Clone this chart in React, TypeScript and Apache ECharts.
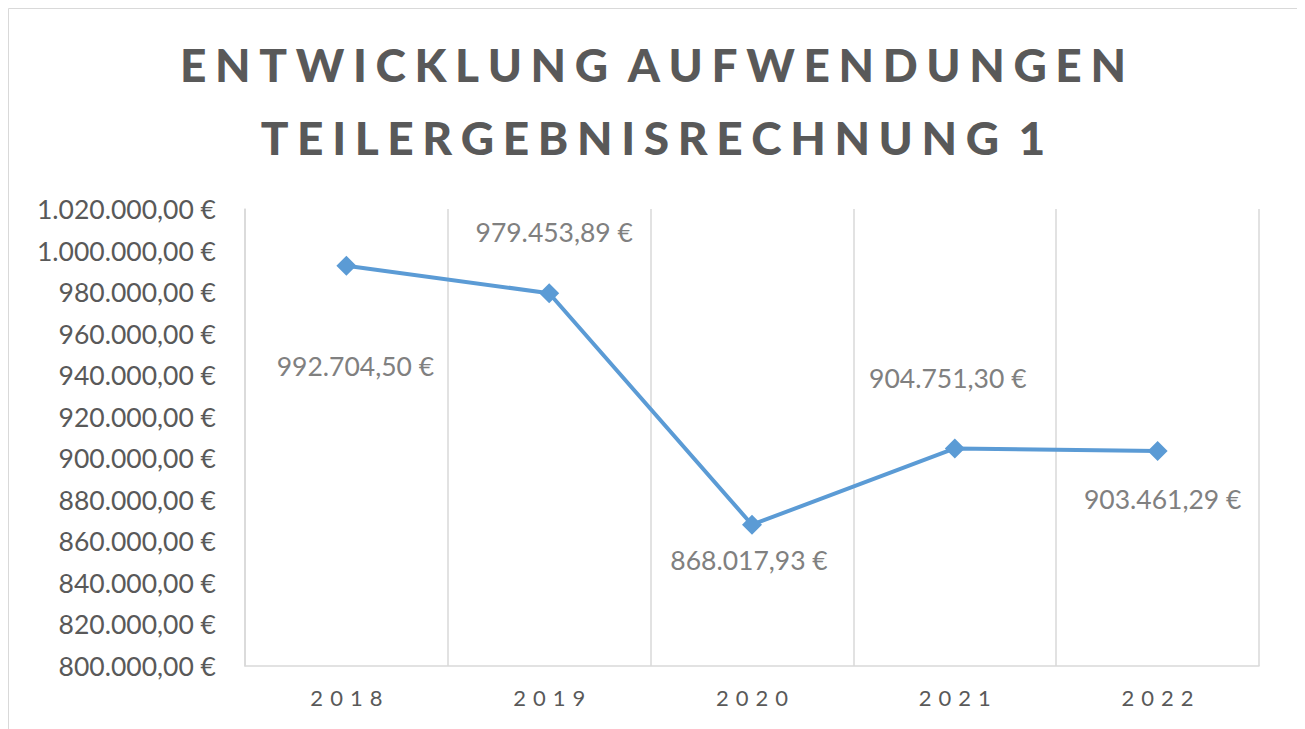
import React, { useEffect, useRef } from "react";
import * as echarts from "echarts";

const titleLines = ["ENTWICKLUNG AUFWENDUNGEN", "TEILERGEBNISRECHNUNG 1"];
const years = ["2018", "2019", "2020", "2021", "2022"];
const values = [992704.5, 979453.89, 868017.93, 904751.3, 903461.29];
const yMin = 800000;
const yMax = 1020000;
const yStep = 20000;
// label placement relative to each point (layout, not data)
const labelOffsets = [
  [9, 100],
  [5, -61],
  [-3, 35],
  [-7, -70],
  [5, 48],
];

const spaced = (s: string) =>
  s
    .split(" ")
    .map((w) => w.split("").join("\u2009\u200A"))
    .join("\u2009 \u200A");

const euro = (v: number) => {
  const [i, d] = v.toFixed(2).split(".");
  return i.replace(/\B(?=(\d{3})+(?!\d))/g, ".") + "," + d + " €";
};

export default function App() {
  const ref = useRef<HTMLDivElement>(null);
  useEffect(() => {
    if (!ref.current) return;
    const chart = echarts.init(ref.current, undefined, { renderer: "svg" });
    const font = "Lato, 'Open Sans', sans-serif";
    chart.setOption({
      animation: false,
      backgroundColor: "#ffffff",
      title: {
        text: titleLines.map(spaced).join("\n"),
        left: "center",
        top: 15,
        textStyle: {
          fontFamily: font,
          fontWeight: 900,
          fontSize: 46,
          lineHeight: 73,
          color: "#595959",
        },
      },
      graphic: [
        {
          type: "rect",
          shape: { x: 0.5, y: 0.5, width: 1289, height: 739 },
          style: { fill: "none", stroke: "#d9d9d9", lineWidth: 1 },
          silent: true,
        },
      ],
      grid: { left: 237, right: 39, top: 201, bottom: 82, containLabel: false },
      xAxis: {
        type: "category",
        data: years,
        boundaryGap: true,
        axisLine: { show: true, lineStyle: { color: "#d9d9d9", width: 1.5 } },
        axisTick: { show: false },
        splitLine: { show: true, lineStyle: { color: "#d9d9d9", width: 1.5 } },
        axisLabel: {
          color: "#595959",
          fontFamily: font,
          fontSize: 22,
          margin: 20,
          formatter: (v: string) => v.split("").join(" \u200A"),
        },
      },
      yAxis: {
        type: "value",
        min: yMin,
        max: yMax,
        interval: yStep,
        axisLine: { show: true, lineStyle: { color: "#d9d9d9", width: 1.5 } },
        axisTick: { show: false },
        splitLine: { show: false },
        axisLabel: {
          color: "#595959",
          fontFamily: font,
          fontSize: 26.5,
          margin: 29,
          formatter: (v: number) => euro(v),
        },
      },
      series: [
        {
          type: "line",
          data: values.map((v, i) => ({
            value: v,
            label: { offset: labelOffsets[i] },
          })),
          symbol: "diamond",
          symbolSize: 20,
          lineStyle: { color: "#5b9bd5", width: 4 },
          itemStyle: { color: "#5b9bd5" },
          label: {
            show: true,
            position: "inside",
            align: "center",
            verticalAlign: "middle",
            color: "#808080",
            fontFamily: font,
            fontSize: 26.5,
            formatter: (p: any) => euro(p.value),
          },
        },
      ],
    });
    return () => chart.dispose();
  }, []);
  return <div ref={ref} style={{ width: 1290, height: 740 }} />;
}
